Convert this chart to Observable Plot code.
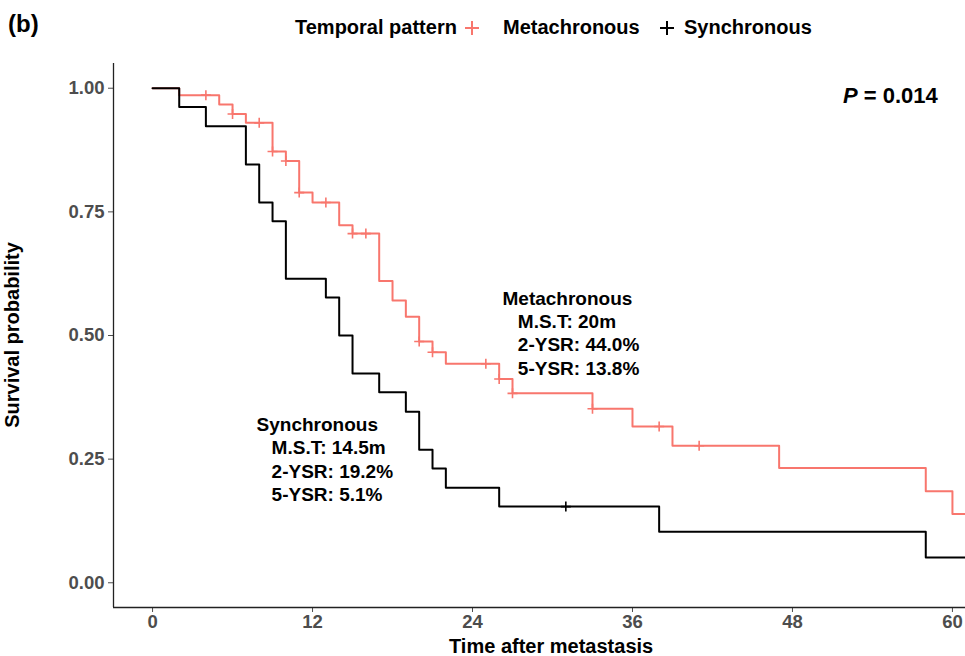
<!DOCTYPE html>
<html><head><meta charset="utf-8">
<script src="https://cdn.jsdelivr.net/npm/d3@7"></script>
<script src="https://cdn.jsdelivr.net/npm/@observablehq/plot@0.6"></script>
<style>
body{margin:0;background:#fff;font-family:"Liberation Sans",Arial,sans-serif;}
#wrap{position:relative;width:965px;height:656px;overflow:hidden;background:#fff;}
#header{position:relative;height:50px;}
.lbl{position:absolute;font-weight:bold;color:#000;white-space:nowrap;line-height:1;}
</style></head>
<body><div id="wrap"><div id="header"></div><div id="chart"></div></div>
<script>
// ---- data ----
const groups = ["Metachronous", "Synchronous"];
const metaTime = [0,2,5,6,7,9,10,11,12,14,15,17,18,19,20,21,22,26,27,33,36,39,47,58,60,61];
const metaSurv = [1,0.986,0.967,0.948,0.930,0.872,0.853,0.789,0.769,0.723,0.706,0.610,0.571,0.538,0.488,0.466,0.443,0.412,0.383,0.352,0.316,0.277,0.232,0.185,0.139,0.139];
const metaCensor = [4,6,8,9,10,11,13,15,16,20,21,25,26,27,33,38,41];
const syncTime = [0,2,4,7,8,9,10,13,14,15,17,19,20,21,22,26,38,58,61];
const syncSurv = [1,0.962,0.923,0.846,0.769,0.731,0.615,0.577,0.5,0.423,0.385,0.346,0.269,0.231,0.192,0.154,0.103,0.051,0.051];
const syncCensor = [31];
const xTicks = [0,12,24,36,48,60];
const yTicks = [0,0.25,0.5,0.75,1];
const metaNote = ["Metachronous","M.S.T: 20m","2-YSR: 44.0%","5-YSR: 13.8%"];
const syncNote = ["Synchronous","M.S.T: 14.5m","2-YSR: 19.2%","5-YSR: 5.1%"];
const pValue = "0.014";

const colors = {Metachronous: "#F8766D", Synchronous: "#000000"};

function steps(times, surv, group){ return times.map((t,i)=>({t, s: surv[i], group})); }
function survAt(times, surv, t){ let v = surv[0]; for (let i=0;i<times.length;i++){ if (times[i] <= t) v = surv[i]; } return v; }
const metaLine = steps(metaTime, metaSurv, "Metachronous");
const syncLine = steps(syncTime, syncSurv, "Synchronous");
const metaCens = metaCensor.map(t=>({t, s: survAt(metaTime, metaSurv, t)}));
const syncCens = syncCensor.map(t=>({t, s: survAt(syncTime, syncSurv, t)}));

const plusSym = { draw(ctx, size){ const r = Math.sqrt(size/Math.PI); ctx.moveTo(-r,0); ctx.lineTo(r,0); ctx.moveTo(0,-r); ctx.lineTo(0,r); } };

const xDom = [-2.93, 60.98];
const chart = Plot.plot({
  width: 965, height: 606,
  marginTop: 13, marginLeft: 113, marginRight: 0, marginBottom: 49,
  x: {domain: xDom},
  y: {domain: [-0.05, 1.05]},
  style: {fontFamily: '"Liberation Sans", Arial, sans-serif', fontSize: "18.5px", fontWeight: "bold", color: "#4d4d4d", background: "white", overflow: "visible"},
  marks: [
    Plot.axisY({ticks: yTicks, tickFormat: d3.format(".2f"), tickSize: 5, tickPadding: 4, label: null}),
    Plot.axisX({ticks: xTicks, tickSize: 5, tickPadding: 2, label: null}),
    Plot.ruleX([xDom[0]], {stroke: "#222", strokeWidth: 1.3}),
    Plot.ruleY([-0.05], {stroke: "#222", strokeWidth: 1.3}),
    Plot.line(metaLine, {x: "t", y: "s", curve: "step-after", stroke: colors.Metachronous, strokeWidth: 2, clip: true}),
    Plot.dot(metaCens, {x: "t", y: "s", symbol: plusSym, r: 5, stroke: colors.Metachronous, strokeWidth: 1.6, fill: "none", clip: true}),
    Plot.line(syncLine, {x: "t", y: "s", curve: "step-after", stroke: colors.Synchronous, strokeWidth: 2, clip: true}),
    Plot.dot(syncCens, {x: "t", y: "s", symbol: plusSym, r: 5, stroke: colors.Synchronous, strokeWidth: 1.6, fill: "none", clip: true}),
    Plot.text(metaNote, {x: (d,i)=> i===0 ? 26.25 : 27.4, y: (d,i)=> 0.575 - i*0.0475, text: d=>d, textAnchor: "start", fill: "#000", fontSize: 19, fontWeight: "bold"}),
    Plot.text(syncNote, {x: (d,i)=> i===0 ? 7.8 : 8.93, y: (d,i)=> 0.320 - i*0.0475, text: d=>d, textAnchor: "start", fill: "#000", fontSize: 19, fontWeight: "bold"})
  ]
});
document.getElementById("chart").appendChild(chart);

// header: panel tag and legend
const header = document.getElementById("header");
function addLabel(parent, html, left, centerY, size, extra){
  const el = document.createElement("div");
  el.className = "lbl";
  el.innerHTML = html;
  el.style.left = left + "px";
  el.style.top = (centerY - size*0.55) + "px";
  el.style.fontSize = size + "px";
  if (extra) Object.assign(el.style, extra);
  parent.appendChild(el);
  return el;
}
function plusIcon(color){
  return `<svg width="16" height="16" viewBox="-8 -8 16 16" style="vertical-align:-2px"><path d="M-7,0H7M0,-7V7" stroke="${color}" stroke-width="2"/></svg>`;
}
addLabel(header, "(b)", 8, 25, 24);
addLabel(header, "Temporal pattern", 295, 28, 20);
addLabel(header, plusIcon(colors.Metachronous), 464, 28, 20);
addLabel(header, groups[0], 503, 28, 20);
addLabel(header, plusIcon(colors.Synchronous), 659, 28, 20);
addLabel(header, groups[1], 684, 28, 20);

// overlays on the chart area
const wrap = document.getElementById("wrap");
addLabel(wrap, `<i>P</i> = ${pValue}`, 843, 97, 22);
addLabel(wrap, "Time after metastasis", 449, 647, 20);
const yl = addLabel(wrap, "Survival probability", 0, 0, 20, {transformOrigin: "0 0"});
yl.style.left = "2px";
yl.style.top = "0px";
const w = yl.getBoundingClientRect().width;
yl.style.transform = `translate(0px, ${335 + w/2}px) rotate(-90deg)`;
</script>
</body></html>
